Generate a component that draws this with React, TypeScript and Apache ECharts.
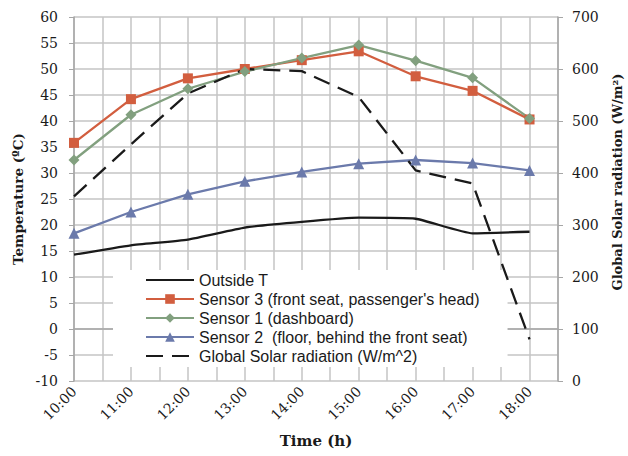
import React, { useEffect, useRef } from "react";
import * as echarts from "echarts";

const timeLabels = ["10:00", "11:00", "12:00", "13:00", "14:00", "15:00", "16:00", "17:00", "18:00"];
const outsideT = [14.3, 16.1, 17.2, 19.5, 20.6, 21.4, 21.2, 18.4, 18.7];
const sensor3 = [35.8, 44.2, 48.2, 50.0, 51.7, 53.4, 48.6, 45.8, 40.3];
const sensor1 = [32.5, 41.2, 46.2, 49.5, 52.1, 54.6, 51.6, 48.3, 40.5];
const sensor2 = [18.4, 22.5, 25.9, 28.4, 30.2, 31.8, 32.5, 31.9, 30.5];
const solar = [355, 455, 553, 600, 596, 546, 405, 380, 80];

const SERIF = "DejaVu Serif";
const SANS = "Liberation Sans";

const pts = (arr: number[]) => arr.map((v, i) => [i, v]);

export default function App() {
  const ref = useRef<HTMLDivElement>(null);
  useEffect(() => {
    if (!ref.current) return;
    const chart = echarts.init(ref.current, null, { renderer: "svg" });
    const gridColor = "#c4c4c4";
    const hidden = { color: "rgba(0,0,0,0)", borderColor: "rgba(0,0,0,0)", borderWidth: 0 };
    chart.setOption({
      animation: false,
      backgroundColor: "#ffffff",
      grid: { left: 74, right: 70, top: 17, bottom: 75, containLabel: false },
      graphic: [
        {
          type: "text",
          x: 617,
          y: 182,
          rotation: Math.PI / 2,
          style: {
            text: "Global Solar radiation (W/m²)",
            font: `bold 13px "${SERIF}"`,
            fill: "#1a1a1a",
            textAlign: "center",
            textVerticalAlign: "middle",
          },
        },
      ],
      legend: {
        orient: "vertical",
        left: 113,
        top: 270,
        padding: [2, 28, 3, 32],
        backgroundColor: "#ffffff",
        z: 1,
        itemWidth: 48,
        itemHeight: 12,
        itemGap: 3,
        textStyle: { fontFamily: SANS, fontSize: 16, color: "#1a1a1a", lineHeight: 16 },
        data: [
          { name: "Outside T", itemStyle: hidden },
          "Sensor 3 (front seat, passenger's head)",
          "Sensor 1 (dashboard)",
          "Sensor 2  (floor, behind the front seat)",
          { name: "Global Solar radiation (W/m^2)", itemStyle: hidden },
        ],
      },
      xAxis: {
        type: "value",
        min: 0,
        max: 8.5,
        interval: 0.5,
        name: "Time (h)",
        nameLocation: "middle",
        nameGap: 52,
        nameTextStyle: { fontFamily: SERIF, fontWeight: "bold", fontSize: 15, color: "#1a1a1a" },
        axisLine: { show: true, lineStyle: { color: "#a6a6a6", width: 1.5 } },
        axisTick: { show: false },
        splitLine: { show: true, lineStyle: { color: gridColor, width: 1.5 } },
        axisLabel: {
          rotate: 45,
          margin: 8,
          fontFamily: SERIF,
          fontSize: 14,
          color: "#1a1a1a",
          formatter: (v: number) => (Number.isInteger(v) && timeLabels[v] ? timeLabels[v] : ""),
        },
      },
      yAxis: [
        {
          type: "value",
          min: -10,
          max: 60,
          interval: 5,
          name: "Temperature (ºC)",
          nameLocation: "middle",
          nameGap: 47,
          nameTextStyle: { fontFamily: SERIF, fontWeight: "bold", fontSize: 13.5, color: "#1a1a1a" },
          axisLine: { show: true, lineStyle: { color: "#a6a6a6", width: 1.5 } },
          axisTick: { show: true, length: 5, lineStyle: { color: "#a6a6a6" } },
          splitLine: { show: true, lineStyle: { color: gridColor, width: 1.5 } },
          axisLabel: { margin: 16, fontFamily: SERIF, fontSize: 14, color: "#1a1a1a" },
        },
        {
          type: "value",
          min: 0,
          max: 700,
          interval: 100,
          position: "right",
          axisLine: { show: true, lineStyle: { color: "#a6a6a6", width: 1.5 } },
          axisTick: { show: true, length: 5, lineStyle: { color: "#a6a6a6" } },
          splitLine: { show: false },
          axisLabel: { margin: 14, fontFamily: SERIF, fontSize: 14, color: "#1a1a1a" },
        },
      ],
      series: [
        {
          name: "Outside T",
          type: "line",
          z: 3,
          data: pts(outsideT),
          symbol: "none",
          smooth: 0.15,
          lineStyle: { color: "#1a1a1a", width: 2.3 },
          itemStyle: { color: "#1a1a1a" },
        },
        {
          name: "Sensor 3 (front seat, passenger's head)",
          type: "line",
          z: 3,
          data: pts(sensor3),
          symbol: "rect",
          symbolSize: 10,
          lineStyle: { color: "#d25e3f", width: 2.3 },
          itemStyle: { color: "#d25e3f" },
        },
        {
          name: "Sensor 1 (dashboard)",
          type: "line",
          z: 3,
          data: pts(sensor1),
          symbol: "diamond",
          symbolSize: 11,
          lineStyle: { color: "#82a07f", width: 2.3 },
          itemStyle: { color: "#82a07f" },
        },
        {
          name: "Sensor 2  (floor, behind the front seat)",
          type: "line",
          z: 3,
          data: pts(sensor2),
          symbol: "triangle",
          symbolSize: 11,
          lineStyle: { color: "#6b7aab", width: 2.3 },
          itemStyle: { color: "#6b7aab" },
        },
        {
          name: "Global Solar radiation (W/m^2)",
          type: "line",
          z: 3,
          yAxisIndex: 1,
          data: pts(solar),
          symbol: "none",
          lineStyle: { color: "#1a1a1a", width: 2.3, type: [17, 9] },
          itemStyle: { color: "#1a1a1a" },
        },
      ],
    });
    return () => chart.dispose();
  }, []);
  return <div ref={ref} style={{ position: "fixed", left: 0, top: 0, width: 628, height: 456 }} />;
}
